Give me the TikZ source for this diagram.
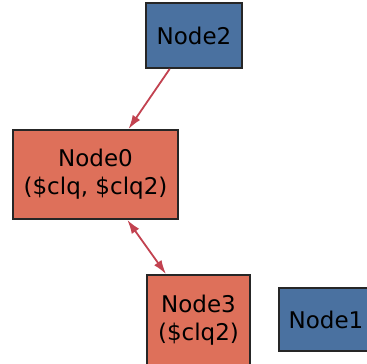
\documentclass[tikz,border=0pt]{standalone}
\usepackage{fontspec}
\setmainfont{DejaVu Sans}
\usepackage{tikz}
\usetikzlibrary{arrows.meta, positioning}
\definecolor{CliqueBlue}{RGB}{74,113,160}
\definecolor{CliqueRed}{RGB}{222,112,90}
\definecolor{EdgeRed}{RGB}{194,66,80}

\begin{document}
\begin{tikzpicture}[
  x=1pt, y=-1pt,
  box/.style={rectangle, draw=black!85, line width=1.8pt, align=center,
              inner sep=0pt, font=\fontsize{23}{28}\selectfont},
  arrow/.style={-{Latex[length=14pt, width=9pt]}, draw=EdgeRed, line width=1.8pt},
  biarrow/.style={{Latex[length=14pt, width=9pt]}-{Latex[length=14pt, width=9pt]}, draw=EdgeRed, line width=1.8pt}
]
\useasboundingbox (0,0) rectangle (367,364);

\node[box, fill=CliqueBlue, minimum width=96pt, minimum height=65pt] (node2) at (194,35.5) {Node2};
\node[box, fill=CliqueRed, minimum width=165pt, minimum height=89pt] (node0) at (95.5,174.5) {Node0\\(\$clq, \$clq2)};
\node[box, fill=CliqueRed, minimum width=103pt, minimum height=91pt] (node3) at (198.5,320.5) {Node3\\(\$clq2)};
\node[box, fill=CliqueBlue, minimum width=94pt, minimum height=63pt] (node1) at (326,319.5) {Node1};

\draw[arrow] (node2.234) -- (node0.54);
\draw[biarrow] (node0.-55) -- (node3.125);
\end{tikzpicture}
\end{document}
